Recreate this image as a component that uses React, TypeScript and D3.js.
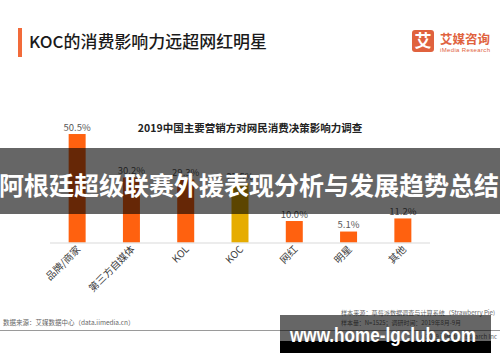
import React from "react";
import * as d3 from "d3";

const categories = ["品牌/商家", "第三方自媒体", "KOL", "KOC", "网红", "明星", "其他"];
const values = [50.5, 30.2, 29.3, 27.5, 10.0, 5.1, 11.2];
const highlight = "KOC";

const pageTitle = "KOC的消费影响力远超网红明星";
const chartTitle = "2019中国主要营销方对网民消费决策影响力调查";
const bannerText = "阿根廷超级联赛外援表现分析与发展趋势总结";
const sourceLeft = "数据来源：艾媒数据中心（data.iimedia.cn）";
const sourceRight1 = "样本来源：草莓派数据调查与计算系统（Strawberry Pie)";
const sourceRight2 = "样本量：N=1525；调研时间：2019年8月-9月";
const sourceRight3 = "©2019 iiMedia Research Inc";
const watermark = "www.home-lgclub.com";

const W = 500;
const H = 362;
const CJK = "'Noto Sans CJK SC', 'Noto Sans', sans-serif";

export default function App() {
  const x = d3
    .scaleBand<string>()
    .domain(categories)
    .range([50, 430])
    .paddingInner(0.687)
    .paddingOuter(0.687 / 2);
  const y = d3.scaleLinear().domain([0, 60]).range([242.5, 242.5 - 60 * 2.148]);

  return (
    <svg
      width={W}
      height={H}
      style={{ position: "absolute", left: 0, top: 0, background: "#fff" }}
      fontFamily={CJK}
    >
      <rect x={0} y={0} width={W} height={H} fill="#fff" />
      {/* page title */}
      <rect x={18} y={28} width={4} height={29} fill="#F26B3A" />
      <text x={29} y={48} fontSize={16.5} fill="#1a1a1a" fontWeight={500} textLength={238} lengthAdjust="spacingAndGlyphs">
        {pageTitle}
      </text>
      {/* logo */}
      <rect x={412} y={30} width={22} height={22} rx={3} fill="#E0623E" />
      <text x={423} y={47} fontSize={17} fill="#fff" textAnchor="middle" fontWeight={700}>
        艾
      </text>
      <text x={440} y={43.5} fontSize={12.5} fill="#E0623E" fontWeight={700}>
        艾媒咨询
      </text>
      <text x={440} y={52} fontSize={6} fill="#E0623E" fontFamily="'Liberation Sans', Arial, sans-serif" textLength={50}>
        iMedia Research
      </text>

      {/* chart title */}
      <text x={250} y={131.5} fontSize={10.5} fontWeight={700} fill="#222" textAnchor="middle">
        {chartTitle}
      </text>

      {/* bars */}
      {categories.map((c, i) => (
        <g key={c}>
          <rect
            x={x(c)!}
            y={y(values[i])}
            width={x.bandwidth()}
            height={y(0) - y(values[i])}
            fill={c === highlight ? "#E6AC00" : "#FF610F"}
          />
          <text
            x={x(c)! + x.bandwidth() / 2}
            y={y(values[i]) - 3.5}
            fontSize={9.5}
            fill="#595959"
            textAnchor="middle"
          >
            {values[i].toFixed(1)}%
          </text>
          <text
            transform={`translate(${x(c)! + x.bandwidth() / 2 + 4},${250}) rotate(-45)`}
            fontSize={10}
            fill="#404040"
            textAnchor="end"
          >
            {c}
          </text>
        </g>
      ))}
      <line x1={50} x2={430} y1={y(0) + 0.5} y2={y(0) + 0.5} stroke="#d9d9d9" strokeWidth={1} />

      {/* footer */}
      <text x={3} y={325} fontSize={6.5} fill="#666">
        {sourceLeft}
      </text>
      <text x={341} y={315} fontSize={6} fill="#666" textLength={154} lengthAdjust="spacingAndGlyphs">
        {sourceRight1}
      </text>
      <text x={341} y={325} fontSize={6} fill="#666" textLength={120} lengthAdjust="spacingAndGlyphs">
        {sourceRight2}
      </text>
      <text x={497} y={339} fontSize={6} fill="#666" textAnchor="end">
        {sourceRight3}
      </text>
      <line x1={0} x2={W} y1={330.5} y2={330.5} stroke="#9a9a9a" strokeWidth={1} />

      {/* banner overlay */}
      <rect x={0} y={148} width={W} height={66} fill="rgba(0,0,0,0.6)" />
      <text x={249} y={195} fontSize={25} fontWeight={700} fill="#fff" textAnchor="middle">
        {bannerText}
      </text>

      {/* watermark */}
      <rect x={280} y={315} width={211} height={26} fill="rgba(0,0,0,0.6)" />
      <rect x={280} y={341} width={211} height={12} fill="#000" />
      <text
        x={290}
        y={342}
        fontSize={20}
        fontWeight={700}
        fill="#fff"
        fontFamily="'Liberation Sans', Arial, sans-serif"
        textLength={186}
        lengthAdjust="spacingAndGlyphs"
      >
        {watermark}
      </text>
    </svg>
  );
}
